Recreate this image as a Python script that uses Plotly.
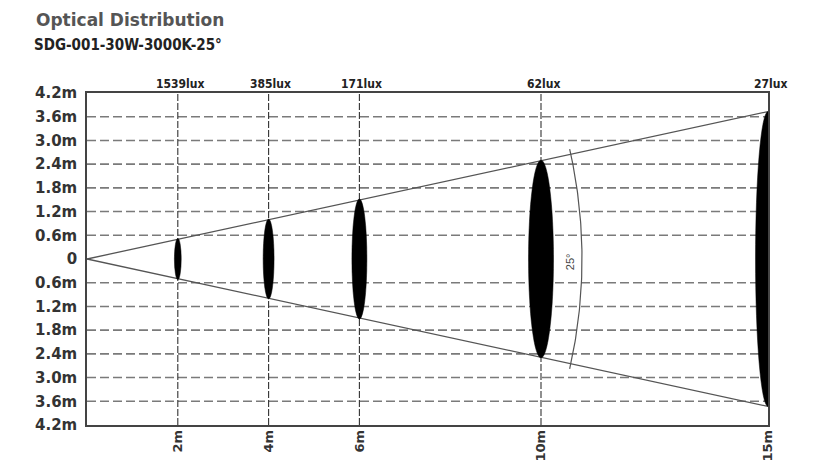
import numpy as np
import plotly.graph_objects as go

# ---- data ----
distances_m = [2, 4, 6, 10, 15]
lux_values = [1539, 385, 171, 62, 27]
spot_radius_m = [0.52, 1.01, 1.52, 2.50, 3.73]
spot_width_m = [0.15, 0.24, 0.33, 0.55, 0.55]
y_levels = [-4.2, -3.6, -3.0, -2.4, -1.8, -1.2, -0.6, 0, 0.6, 1.2, 1.8, 2.4, 3.0, 3.6, 4.2]
y_ticktext = ["4.2m", "3.6m", "3.0m", "2.4m", "1.8m", "1.2m", "0.6m", "0",
              "0.6m", "1.2m", "1.8m", "2.4m", "3.0m", "3.6m", "4.2m"]
x_ticktext = ["2m", "4m", "6m", "10m", "15m"]
beam_angle_label = "25°"
title_text = "Optical Distribution"
subtitle_text = "SDG-001-30W-3000K-25°"

# page body has an 8px margin; lay the figure out so it lands where the reference is
OFF = 8
W, H = 822 - OFF, 461 - OFF
ML, MR, MT, MB = 87 - OFF, 54, 93 - OFF, 36
PW, PH = W - ML - MR, H - MT - MB
XMAX = 15
YMAX = 4.2
px_per_m_x = PW / XMAX
px_per_m_y = PH / (2 * YMAX)


def paper_x(ref_px):
    return (ref_px - OFF - ML) / PW


def paper_y(ref_py):
    return (H - MB - (ref_py - OFF)) / PH


BOLD = "DejaVu Sans"
COND = "DejaVu Sans Condensed, Liberation Sans Narrow, DejaVu Sans"

fig = go.Figure()

shapes = []
# horizontal dashed grid
for lv in y_levels:
    if abs(lv) < 1e-9 or abs(abs(lv) - YMAX) < 1e-9:
        continue
    shapes.append(dict(type="line", xref="x", yref="y", x0=0, x1=XMAX, y0=lv, y1=lv,
                       line=dict(color="#7a7a7a", width=1.6, dash="9px,4px"), layer="below"))
# vertical dashed lines at distances
for d in distances_m[:-1]:
    shapes.append(dict(type="line", xref="x", yref="y", x0=d, x1=d, y0=-YMAX, y1=YMAX,
                       line=dict(color="#333333", width=1.1, dash="7px,2px"), layer="below"))

# cone lines
end_d, end_r = distances_m[-1], spot_radius_m[-1]
fig.add_trace(go.Scatter(x=[0, end_d, None, 0, end_d], y=[0, end_r, None, 0, -end_r],
                         mode="lines", line=dict(color="#555555", width=1.3),
                         hoverinfo="skip", showlegend=False))

# angle arc (drawn in screen space, converted to data units)
ang = np.arctan((end_r / end_d) * px_per_m_y / px_per_m_x) + np.radians(0.6)
R_px = 495
th = np.linspace(-ang, ang, 80)
fig.add_trace(go.Scatter(x=R_px * np.cos(th) / px_per_m_x, y=R_px * np.sin(th) / px_per_m_y,
                         mode="lines", line=dict(color="#555555", width=1.2),
                         hoverinfo="skip", showlegend=False))

# light spots
for d, r, w in zip(distances_m, spot_radius_m, spot_width_m):
    shapes.append(dict(type="circle", xref="x", yref="y", x0=d - w / 2, x1=d + w / 2,
                       y0=-r, y1=r, fillcolor="#000000", line=dict(color="#000000", width=0.5),
                       layer="above"))

annotations = []
for d, lx in zip(distances_m, lux_values):
    annotations.append(dict(x=d, y=YMAX, xref="x", yref="y", text=f"{lx}lux",
                            showarrow=False, yanchor="bottom", xanchor="center", xshift=2, yshift=0,
                            font=dict(family=COND, size=12, color="#222222", weight="bold")))

annotations.append(dict(x=(570 - 87) / px_per_m_x, y=-0.08, xref="x", yref="y",
                        text=beam_angle_label, textangle=-90, showarrow=False,
                        font=dict(family="Liberation Sans, Arial", size=11, color="#444444")))

annotations.append(dict(x=paper_x(34), y=paper_y(20),
                        xref="paper", yref="paper", text=title_text, showarrow=False,
                        xanchor="left", yanchor="middle",
                        font=dict(family=BOLD, size=17, color="#555555", weight="bold")))
annotations.append(dict(x=paper_x(32), y=paper_y(45),
                        xref="paper", yref="paper", text=subtitle_text, showarrow=False,
                        xanchor="left", yanchor="middle",
                        font=dict(family=COND, size=15, color="#222222", weight="bold")))

fig.update_layout(
    width=W, height=H,
    margin=dict(l=ML, r=MR, t=MT, b=MB, pad=0),
    paper_bgcolor="white", plot_bgcolor="white",
    shapes=shapes, annotations=annotations, showlegend=False,
    xaxis=dict(range=[0, XMAX], tickvals=distances_m, ticktext=x_ticktext, tickangle=-90,
               showgrid=False, zeroline=False, showline=True, mirror=True,
               linecolor="#444444", linewidth=1.5, ticks="", ticklabelstandoff=-2,
               tickfont=dict(family=BOLD, size=13, color="#333333", weight="bold"),
               automargin=False, fixedrange=True),
    yaxis=dict(range=[-YMAX, YMAX], tickvals=y_levels, ticktext=y_ticktext,
               showgrid=False, zeroline=False, showline=True, mirror=True,
               linecolor="#444444", linewidth=1.5, ticks="", ticklabelstandoff=5,
               tickfont=dict(family=BOLD, size=15, color="#333333", weight="bold"),
               automargin=False, fixedrange=True),
)

fig.write_html("out.html")
